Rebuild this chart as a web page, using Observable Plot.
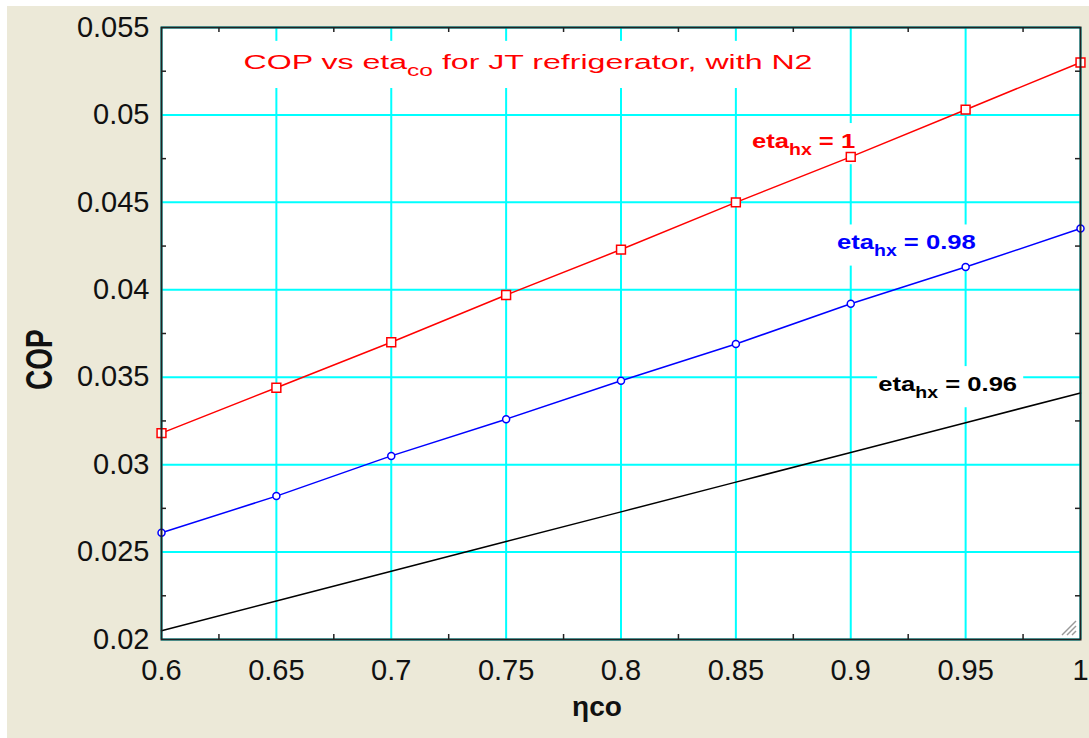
<!DOCTYPE html>
<html>
<head>
<meta charset="utf-8">
<script src="https://cdn.jsdelivr.net/npm/d3@7"></script>
<script src="https://cdn.jsdelivr.net/npm/@observablehq/plot@0.6"></script>
<style>
  html, body { margin: 0; padding: 0; background: #ffffff; }
  #panel { position: absolute; left: 7px; top: 6px; width: 1082px; height: 732px; background: #ECE9D8; overflow: hidden; }
  #panel svg { display: block; }
</style>
</head>
<body>
<div id="panel"></div>
<script>
// Compressor efficiency (x) and coefficient of performance for three heat-exchanger efficiencies
const etaCo = [0.6, 0.65, 0.7, 0.75, 0.8, 0.85, 0.9, 0.95, 1.0];
const copHx100 = [0.0318, 0.0344, 0.0370, 0.0397, 0.0423, 0.0450, 0.0476, 0.0503, 0.0530];
const copHx098 = [0.0261, 0.0282, 0.0305, 0.0326, 0.0348, 0.0369, 0.0392, 0.0413, 0.0435];
const copHx096 = [0.0205, 0.0222, 0.0239, 0.0256, 0.0273, 0.0290, 0.0307, 0.0324, 0.0341];

// Axis ticks
const xTicks = [0.6, 0.65, 0.7, 0.75, 0.8, 0.85, 0.9, 0.95, 1.0];
const xMinor = [0.625, 0.675, 0.725, 0.775, 0.825, 0.875, 0.925, 0.975];
const yTicks = [0.02, 0.025, 0.03, 0.035, 0.04, 0.045, 0.05, 0.055];
const yMinor = [0.0225, 0.0275, 0.0325, 0.0375, 0.0425, 0.0475, 0.0525];

// Annotations (text with _{...} marking a subscript) and their anchors in data units
const noteText = [
  "COP vs eta_{co} for JT refrigerator, with N2",
  "eta_{hx} = 1",
  "eta_{hx} = 0.98",
  "eta_{hx} = 0.96"
];
const noteEta = [0.6357, 0.857, 0.894, 0.912];
const noteCop = [0.0530, 0.0485, 0.0427, 0.0346];

// Axis titles
const xTitle = "ηco";
const yTitle = "COP";

const FONT = "'Liberation Sans', Arial, Helvetica, sans-serif";
const W = 1082, H = 732;
const M = {top: 21, right: 9, bottom: 99, left: 154};
const innerW = W - M.left - M.right;
const innerH = H - M.top - M.bottom;

// the note lettering is set wide: horizontal stretch per note
const noteStretch = [1.53, 1.22, 1.22, 1.22];

const toRows = (vals) => etaCo.map((x, i) => ({eta: x, cop: vals[i]}));
const red = toRows(copHx100), blue = toRows(copHx098), black = toRows(copHx096);
const notes = noteText.map((t, i) => ({text: t, eta: noteEta[i], cop: noteCop[i], kind: i}));
const noteColor = ["#ff0000", "#ff0000", "#0000ff", "#000000"];
const fmt = (d) => String(+d.toFixed(4));

const chart = Plot.plot({
  width: W,
  height: H,
  marginTop: M.top,
  marginRight: M.right,
  marginBottom: M.bottom,
  marginLeft: M.left,
  style: {background: "transparent", fontFamily: FONT, color: "#111", overflow: "visible"},
  x: {domain: [0.6, 1.0]},
  y: {domain: [0.02, 0.055]},
  marks: [
    Plot.frame({fill: "#ffffff"}),
    Plot.gridX({ticks: xTicks, stroke: "#00ffff", strokeOpacity: 1, strokeWidth: 2}),
    Plot.gridY({ticks: yTicks, stroke: "#00ffff", strokeOpacity: 1, strokeWidth: 2}),
    // inward minor ticks on all four sides
    Plot.tickX(xMinor, {x: (d) => d, insetTop: innerH - 5, stroke: "#222", strokeWidth: 1.5}),
    Plot.tickX(xMinor, {x: (d) => d, insetBottom: innerH - 5, stroke: "#222", strokeWidth: 1.5}),
    Plot.tickY(yMinor, {y: (d) => d, insetRight: innerW - 5, stroke: "#222", strokeWidth: 1.5}),
    Plot.tickY(yMinor, {y: (d) => d, insetLeft: innerW - 5, stroke: "#222", strokeWidth: 1.5}),
    // annotations (drawn under the curves)
    Plot.text(notes.slice(0, 1), {x: "eta", y: "cop", text: "text", fill: noteColor[0], fontSize: 21, textAnchor: "start", lineAnchor: "middle"}),
    Plot.text(notes.slice(1), {x: "eta", y: "cop", text: "text", fill: (d) => noteColor[d.kind], fontSize: 21, fontWeight: "bold", textAnchor: "start", lineAnchor: "middle"}),
    // series
    Plot.line(black, {x: "eta", y: "cop", stroke: "#000000", strokeWidth: 1.5}),
    Plot.line(blue, {x: "eta", y: "cop", stroke: "#0000ff", strokeWidth: 1.5}),
    Plot.line(red, {x: "eta", y: "cop", stroke: "#ff0000", strokeWidth: 1.5}),
    Plot.dot(blue, {x: "eta", y: "cop", symbol: "circle", r: 3.5, stroke: "#0000ff", fill: "#ffffff", strokeWidth: 1.5}),
    Plot.dot(red, {x: "eta", y: "cop", symbol: "square", r: 5, stroke: "#ff0000", fill: "#ffffff", strokeWidth: 1.5}),
    Plot.frame({stroke: "#222", strokeWidth: 2}),
    // axes
    Plot.axisX({ticks: xTicks, tickFormat: fmt, tickSize: 0, tickPadding: 20, fontSize: 29, label: null}),
    Plot.axisY({ticks: yTicks, tickFormat: fmt, tickSize: 0, tickPadding: 12, fontSize: 29, label: null}),
    Plot.text([xTitle], {frameAnchor: "bottom", dx: -24, dy: 68, fontSize: 28, fontWeight: "bold", lineAnchor: "middle", fill: "#111"}),
    Plot.text([{t: yTitle, cop: 0.036}], {y: "cop", text: "t", frameAnchor: "left", dx: -121, rotate: -90, fontSize: 28, fontWeight: "bold", textAnchor: "middle", lineAnchor: "middle", fill: "#111"})
  ]
});

document.getElementById("panel").appendChild(chart);

const svg = d3.select(chart);

// Turn "_{...}" into subscripts
const subRe = /^(.*?)_\{(.*?)\}(.*)$/;
const noteNodes = svg.selectAll("text").filter(function () { return subRe.test(this.textContent); }).nodes();
noteNodes.forEach((node) => {
  const m = node.textContent.match(subRe);
  const fs = parseFloat(getComputedStyle(node).fontSize) || 20;
  const t = d3.select(node);
  t.text(null);
  t.append("tspan").text(m[1]);
  t.append("tspan").attr("font-size", Math.round(fs * 0.75)).attr("dy", fs * 0.32).text(m[2]);
  t.append("tspan").attr("dy", -fs * 0.32).text(m[3]);
});

// Stretch each note and knock a white box out of the grid behind it
noteNodes.forEach((node) => {
  const i = noteText.findIndex((s) => s.replace(/_\{|\}/g, "") === node.textContent);
  const k = noteStretch[i] ?? 1.22;
  const tr = (node.getAttribute("transform") || "") + ` scale(${k},1)`;
  node.setAttribute("transform", tr);
  const bb = node.getBBox();
  const padV = i === 0 ? 9 : 6;
  d3.select(node.parentNode).insert("rect", () => node)
    .attr("transform", tr)
    .attr("x", bb.x - 1).attr("y", bb.y - padV)
    .attr("width", bb.width + 6).attr("height", bb.height + 2 * padV)
    .attr("fill", "#ffffff");
});

// The vertical axis title is lettered taller across the axis
svg.selectAll("text").filter(function () { return this.textContent === yTitle; }).each(function () {
  const tr = this.getAttribute("transform") || "";
  this.setAttribute("transform", tr.replace(/rotate\(/, "scale(1.3,1) rotate("));
});

// resize grip in the lower right corner of the plot area
const sx = chart.scale("x"), sy = chart.scale("y");
const cx = sx.apply(1.0) - 4, cy = sy.apply(0.02) - 4;
const grip = svg.append("g").attr("stroke", "#999").attr("stroke-width", 1.5);
[0, 5, 10].forEach((o) => {
  grip.append("line").attr("x1", cx - 4 - o).attr("y1", cy).attr("x2", cx).attr("y2", cy - 4 - o);
});
</script>
</body>
</html>
